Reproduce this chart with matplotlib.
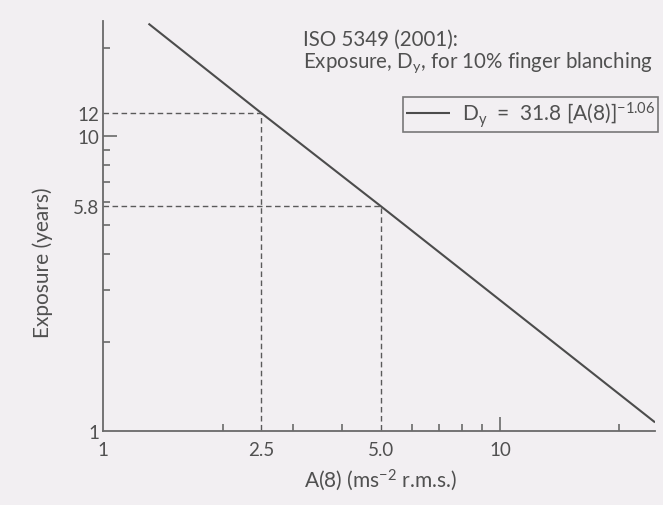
#!/usr/bin/env python3
"""
ISO 5349 exposure chart (log-log)
"""

import matplotlib

matplotlib.use("Agg")
import matplotlib.pyplot as plt
from matplotlib.ticker import NullFormatter

# Data
line_x = [1.3, 2.5, 5.0, 24.6]  # A(8), m/s^2
line_y = [24.1, 12.0, 5.8, 1.07]  # exposure, years
marked_x = [2.5, 5.0]
marked_y = [12.0, 5.8]

x_ticks = [1, 2.5, 5, 10]
x_labels = ["1", "2.5", "5.0", "10"]
x_minor = [2, 3, 4, 6, 7, 8, 9, 20]
y_ticks = [1, 5.8, 10, 12]
y_labels = ["1", "5.8", "10", "12"]
y_minor = [2, 3, 4, 5, 6, 7, 8, 9, 20]

BG = "#f2eff2"
INK = "#4c4c4c"
TEXT = "#505050"

plt.rcParams["font.family"] = ["Lato", "DejaVu Sans"]
plt.rcParams["mathtext.fontset"] = "custom"
plt.rcParams["mathtext.rm"] = "Lato"
plt.rcParams["mathtext.default"] = "rm"

fig = plt.figure(figsize=(6.63, 5.06), dpi=100, facecolor=BG)
ax = fig.add_axes([0.1558, 0.1462, 0.8322, 0.8103])
ax.set_facecolor("none")

ax.set_xscale("log")
ax.set_yscale("log")
ax.set_xlim(1, 24.6)
ax.set_ylim(1, 24.6)

# main curve
(curve,) = ax.plot(line_x, line_y, color=INK, lw=1.5, solid_capstyle="butt")

# dashed guides from axis to curve and down
for mx, my in zip(marked_x, marked_y):
    ax.plot([1, mx, mx], [my, my, 1], color="#5a5a5a", lw=1.0,
            ls=(0, (4, 2.5)))

for side in ("top", "right"):
    ax.spines[side].set_visible(False)
for side in ("left", "bottom"):
    ax.spines[side].set_color("#6a6a6a")
    ax.spines[side].set_linewidth(1.3)

ax.set_xticks(x_ticks)
ax.set_xticklabels(x_labels)
ax.set_xticks(x_minor, minor=True)
ax.xaxis.set_minor_formatter(NullFormatter())
ax.set_yticks(y_ticks)
ax.set_yticklabels(y_labels)
ax.set_yticks(y_minor, minor=True)
ax.yaxis.set_minor_formatter(NullFormatter())

ax.tick_params(which="both", direction="in", color="#6a6a6a", width=1.2,
               labelcolor=TEXT, labelsize=13.5)
ax.tick_params(which="major", length=10)
ax.tick_params(which="minor", length=5)
ax.tick_params(axis="x", which="major", pad=7)
ax.tick_params(axis="y", which="major", pad=3)

# only the 10 ticks are drawn among the labelled ones
for tick, val in zip(ax.xaxis.get_major_ticks(), x_ticks):
    if val != 10:
        tick.tick1line.set_visible(False)
for tick, val in zip(ax.yaxis.get_major_ticks(), y_ticks):
    if val != 10:
        tick.tick1line.set_visible(False)

fig.text(380 / 663, 1 - 480 / 506, r"A(8) (ms$^{-2}$ r.m.s.)",
         ha="center", va="center", fontsize=15, color=TEXT)
fig.text(43 / 663, 1 - 263 / 506, "Exposure (years)", rotation=90,
         ha="center", va="center", fontsize=15, color=TEXT)

fig.text(303 / 663, 1 - 40 / 506, "ISO 5349 (2001):",
         ha="left", va="center", fontsize=14.8, color=TEXT)
fig.text(303 / 663, 1 - 63 / 506, r"Exposure, D$_{y}$, for 10% finger blanching",
         ha="left", va="center", fontsize=14.8, color=TEXT)

leg = ax.legend([curve], [r"D$_{y}$  =  31.8 [A(8)]$^{-1.06}$"],
                loc="upper right", bbox_to_anchor=(658 / 663, 1 - 98 / 506),
                bbox_transform=fig.transFigure, borderaxespad=0,
                fancybox=False, frameon=True, fontsize=15,
                handlelength=2.1, borderpad=0.12, handletextpad=0.6)
leg.get_frame().set_edgecolor("#5a5a5a")
leg.get_frame().set_facecolor(BG)
leg.get_frame().set_linewidth(1.2)
for t in leg.get_texts():
    t.set_color(TEXT)

fig.savefig("out.png", dpi=100, facecolor=BG)
